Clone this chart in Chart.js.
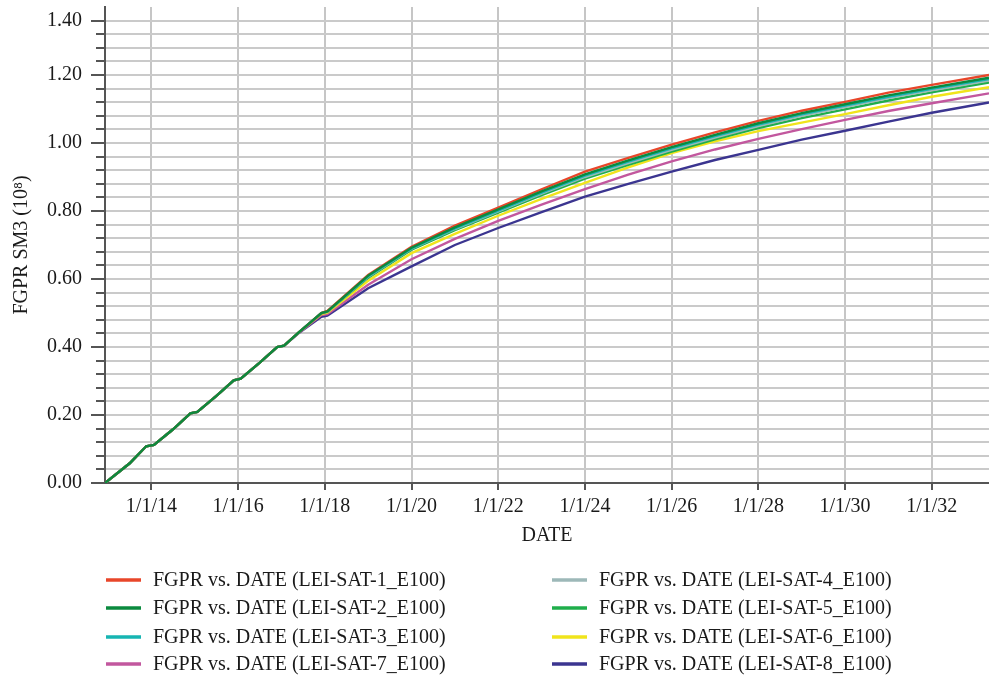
<!DOCTYPE html>
<html><head><meta charset="utf-8">
<script src="https://cdn.jsdelivr.net/npm/chart.js@4/dist/chart.umd.min.js"></script>
<style>html,body{margin:0;padding:0;background:#fff}#wrap{width:989px;height:676px;position:relative}</style>
</head><body><div id="wrap"><canvas id="c"></canvas></div>
<script>
// ---- data (decimal years) ----
const dates = [2012.93, 2013.5, 2013.88, 2014.06, 2014.5, 2014.9, 2015.06, 2015.5, 2015.9, 2016.06, 2016.5, 2016.9, 2017.06, 2017.4, 2017.92, 2018.06, 2019, 2020, 2021, 2022, 2023, 2024, 2025, 2026, 2027, 2028, 2029, 2030, 2031, 2032, 2033.32];
const sat1 = [0, 0.058, 0.108, 0.112, 0.158, 0.205, 0.209, 0.256, 0.302, 0.307, 0.354, 0.400, 0.404, 0.443, 0.500, 0.506, 0.612, 0.695, 0.757, 0.810, 0.864, 0.916, 0.956, 0.995, 1.031, 1.065, 1.095, 1.121, 1.148, 1.171, 1.200];
const sat2 = [0, 0.058, 0.108, 0.112, 0.158, 0.205, 0.209, 0.256, 0.302, 0.307, 0.354, 0.400, 0.404, 0.443, 0.500, 0.505, 0.610, 0.692, 0.752, 0.805, 0.858, 0.908, 0.949, 0.988, 1.024, 1.058, 1.088, 1.114, 1.140, 1.163, 1.192];
const sat3 = [0, 0.058, 0.108, 0.112, 0.158, 0.205, 0.209, 0.256, 0.302, 0.307, 0.354, 0.400, 0.404, 0.443, 0.500, 0.505, 0.608, 0.690, 0.749, 0.801, 0.854, 0.904, 0.945, 0.984, 1.020, 1.054, 1.084, 1.110, 1.136, 1.159, 1.188];
const sat4 = [0, 0.058, 0.108, 0.112, 0.158, 0.205, 0.209, 0.256, 0.302, 0.307, 0.354, 0.400, 0.404, 0.443, 0.500, 0.504, 0.607, 0.689, 0.747, 0.799, 0.851, 0.900, 0.941, 0.980, 1.016, 1.050, 1.080, 1.106, 1.132, 1.155, 1.184];
const sat5 = [0, 0.058, 0.108, 0.112, 0.158, 0.205, 0.209, 0.256, 0.302, 0.307, 0.354, 0.400, 0.404, 0.443, 0.499, 0.504, 0.604, 0.686, 0.744, 0.795, 0.847, 0.895, 0.936, 0.975, 1.011, 1.044, 1.073, 1.099, 1.125, 1.149, 1.178];
const sat6 = [0, 0.058, 0.108, 0.112, 0.158, 0.205, 0.209, 0.256, 0.302, 0.307, 0.354, 0.400, 0.404, 0.443, 0.497, 0.501, 0.595, 0.676, 0.733, 0.786, 0.836, 0.883, 0.928, 0.970, 1.005, 1.035, 1.060, 1.085, 1.111, 1.136, 1.164];
const sat7 = [0, 0.058, 0.108, 0.112, 0.158, 0.205, 0.209, 0.256, 0.302, 0.307, 0.354, 0.400, 0.404, 0.442, 0.494, 0.497, 0.583, 0.658, 0.718, 0.771, 0.819, 0.864, 0.907, 0.946, 0.981, 1.012, 1.041, 1.068, 1.094, 1.117, 1.146];
const sat8 = [0, 0.058, 0.108, 0.112, 0.158, 0.205, 0.209, 0.256, 0.302, 0.307, 0.354, 0.400, 0.404, 0.441, 0.489, 0.492, 0.573, 0.637, 0.700, 0.750, 0.797, 0.842, 0.880, 0.916, 0.950, 0.980, 1.010, 1.036, 1.063, 1.089, 1.119];
const seriesLabels = ['FGPR vs. DATE (LEI-SAT-1_E100)','FGPR vs. DATE (LEI-SAT-2_E100)','FGPR vs. DATE (LEI-SAT-3_E100)','FGPR vs. DATE (LEI-SAT-4_E100)','FGPR vs. DATE (LEI-SAT-5_E100)','FGPR vs. DATE (LEI-SAT-6_E100)','FGPR vs. DATE (LEI-SAT-7_E100)','FGPR vs. DATE (LEI-SAT-8_E100)'];
const xTickValues = [2014, 2016, 2018, 2020, 2022, 2024, 2026, 2028, 2030, 2032];
const xTickLabels = ['1/1/14','1/1/16','1/1/18','1/1/20','1/1/22','1/1/24','1/1/26','1/1/28','1/1/30','1/1/32'];
const yTickValues = [0, 0.2, 0.4, 0.6, 0.8, 1.0, 1.2, 1.36];
const yTickLabels = ['0.00','0.20','0.40','0.60','0.80','1.00','1.20','1.40'];
const yGridValues = [0,0.04,0.08,0.12,0.16,0.2,0.24,0.28,0.32,0.36,0.4,0.44,0.48,0.52,0.56,0.6,0.64,0.68,0.72,0.76,0.8,0.84,0.88,0.92,0.96,1.0,1.04,1.08,1.12,1.16,1.2,1.24,1.28,1.32,1.36];

// ---- styles ----
const colors = ['#e8462a','#0b8a3e','#16b5b2','#9db8b8','#1fae4b','#f0e41c','#c2579e','#3b3590'];
const allSeries = [sat1, sat2, sat3, sat4, sat5, sat6, sat7, sat8];
const FONT = "'Liberation Serif', 'Times New Roman', serif";
const isMajorY = v => yTickValues.some(t => Math.abs(t - v) < 1e-6);

const datasets = allSeries.map((s, i) => ({
  label: seriesLabels[i],
  data: dates.map((d, j) => ({x: d, y: s[j]})),
  borderColor: colors[i],
  backgroundColor: colors[i],
  borderWidth: 2.4,
  pointRadius: 0,
  tension: 0,
  order: i === 1 ? -1 : i
}));

const extrasPlugin = {
  id: 'extras',
  afterDraw(chart) {
    const ctx = chart.ctx;
    const ys = chart.scales.y;
    const left = chart.chartArea.left;
    ctx.save();
    // minor y tick marks
    ctx.strokeStyle = '#555';
    ctx.lineWidth = 2;
    yGridValues.forEach(v => {
      if (isMajorY(v)) return;
      const y = Math.round(ys.getPixelForValue(v));
      ctx.beginPath(); ctx.moveTo(left - 9, y); ctx.lineTo(left, y); ctx.stroke();
    });
    // two-column legend
    const order = [0, 3, 1, 4, 2, 5, 6, 7];
    const colX = [106, 552];
    const rowY = [580, 608, 637, 664];
    ctx.font = '20px ' + FONT;
    ctx.textBaseline = 'middle';
    ctx.textAlign = 'left';
    order.forEach((di, k) => {
      const x = colX[k % 2], y = rowY[Math.floor(k / 2)];
      ctx.strokeStyle = chart.data.datasets[di].borderColor;
      ctx.lineWidth = 3.5;
      ctx.beginPath(); ctx.moveTo(x, y); ctx.lineTo(x + 35, y); ctx.stroke();
      ctx.fillStyle = '#1a1a1a';
      ctx.fillText(chart.data.datasets[di].label, x + 47, y + 1);
    });
    ctx.restore();
  }
};

new Chart(document.getElementById('c'), {
  type: 'line',
  data: { datasets },
  plugins: [extrasPlugin],
  options: {
    responsive: true,
    maintainAspectRatio: false,
    animation: false,
    layout: { padding: { top: 7, right: 0, bottom: 120, left: 0 } },
    plugins: { legend: { display: false }, tooltip: { enabled: false } },
    scales: {
      x: {
        type: 'linear',
        min: 2012.93,
        max: 2033.32,
        afterBuildTicks: s => { s.ticks = xTickValues.map(v => ({value: v})); },
        afterFit: s => { s.height = 73; s.paddingLeft = 0; s.paddingRight = 0; },
        ticks: {
          autoSkip: false, maxRotation: 0, padding: 5,
          font: { family: FONT, size: 20 }, color: '#1a1a1a',
          callback: v => { const i = xTickValues.indexOf(v); return i >= 0 ? xTickLabels[i] : ''; }
        },
        grid: { color: '#c6c6c6', lineWidth: 2, tickLength: 7, tickColor: '#555', tickWidth: 2 },
        border: { color: '#555', width: 2 },
        title: { display: true, text: 'DATE', font: { family: FONT, size: 20 }, color: '#1a1a1a', padding: { top: 0, bottom: 8 } }
      },
      y: {
        type: 'linear',
        min: 0,
        max: 1.40,
        afterBuildTicks: s => { s.ticks = yGridValues.map(v => ({value: v})); },
        afterFit: s => { s.width = 105; s.paddingTop = 0; s.paddingBottom = 0; },
        ticks: {
          autoSkip: false, padding: 9,
          font: { family: FONT, size: 20 }, color: '#1a1a1a',
          callback: v => { const i = yTickValues.findIndex(t => Math.abs(t - v) < 1e-6); return i >= 0 ? yTickLabels[i] : ''; }
        },
        grid: {
          color: '#cacaca', lineWidth: 2, tickLength: 14, tickWidth: 2,
          tickColor: c => (c.tick && isMajorY(c.tick.value)) ? '#555' : 'rgba(0,0,0,0)'
        },
        border: { color: '#555', width: 2 },
        title: { display: true, text: 'FGPR SM3 (10⁸)', font: { family: FONT, size: 20 }, color: '#1a1a1a', padding: { top: 10, bottom: 0 } }
      }
    }
  }
});
</script>
</body></html>
